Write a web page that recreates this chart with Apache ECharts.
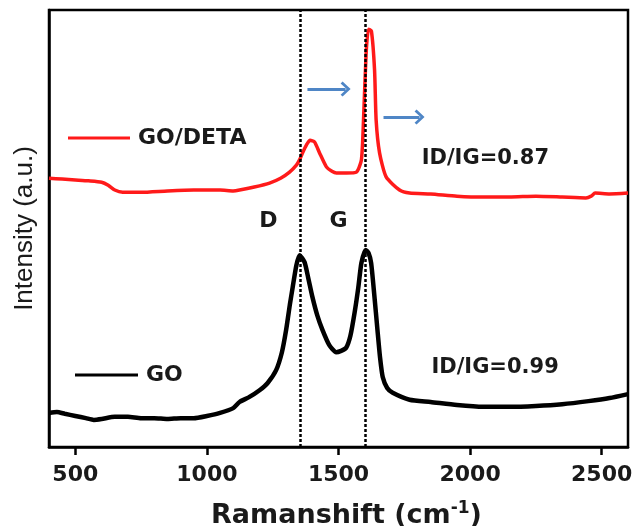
<!DOCTYPE html>
<html>
<head>
<meta charset="utf-8">
<script src="https://cdn.jsdelivr.net/npm/echarts@6/dist/echarts.min.js"></script>
<style>
  html, body { margin: 0; padding: 0; background: #fff; }
  #chart { width: 635px; height: 526px; }
</style>
</head>
<body>
<div id="chart"></div>
<script>
// Raman shift (cm^-1) / intensity (a.u.) pairs for each sample
const goShift = [400, 430, 460, 500, 540, 570, 600, 650, 700, 750, 800, 850, 900, 950, 1000, 1050, 1100, 1124, 1160, 1200, 1230, 1263, 1285, 1301, 1315, 1326, 1340, 1352, 1371, 1385, 1401, 1420, 1439, 1465, 1491, 1510, 1529, 1545, 1561, 1575, 1587, 1603, 1614, 1624, 1636, 1648, 1658, 1668, 1685, 1706, 1770, 1850, 1950, 2050, 2150, 2250, 2350, 2450, 2530, 2600];
const goIntensity = [78, 80, 76, 71, 66, 62, 64, 69, 69, 66, 66, 64, 66, 66, 71, 78, 89, 103, 114, 130, 146, 176, 217, 268, 325, 366, 416, 439, 423, 387, 343, 300, 268, 233, 217, 220, 227, 254, 307, 364, 421, 451, 444, 421, 348, 268, 204, 160, 135, 124, 108, 103, 96, 92, 92, 94, 98, 105, 112, 121];

const detaShift = [400, 450, 500, 550, 600, 625, 650, 680, 750, 850, 950, 1050, 1100, 1124, 1180, 1238, 1280, 1314, 1340, 1352, 1365, 1378, 1392, 1409, 1428, 1454, 1475, 1492, 1530, 1568, 1587, 1595, 1605, 1614, 1625, 1637, 1643, 1656, 1681, 1732, 1770, 1850, 1950, 2050, 2150, 2250, 2350, 2440, 2460, 2475, 2530, 2600];
const detaIntensity = [615, 613, 611, 609, 606, 599, 588, 583, 583, 586, 588, 588, 586, 588, 595, 604, 615, 629, 645, 657, 675, 691, 702, 698, 673, 641, 631, 627, 627, 629, 657, 748, 901, 956, 952, 863, 748, 673, 618, 588, 581, 579, 574, 572, 572, 574, 572, 570, 574, 581, 579, 581];

// D and G band positions (cm^-1)
const bandPositions = [1355, 1603];
const bandNames = ['D', 'G'];
const ratioLabels = ['ID/IG=0.87', 'ID/IG=0.99'];
const xTickValues = [500, 1000, 1500, 2000, 2500];

const pair = (xs, ys) => xs.map((x, i) => [x, ys[i]]);
const boldFont = '"DejaVu Sans", "Liberation Sans", sans-serif';
const ink = '#1a1a1a';

const textMark = (coord, text, size) => ({
  coord: coord,
  symbol: 'circle',
  symbolSize: 0,
  label: {
    show: true, position: 'inside', formatter: text,
    fontFamily: boldFont, fontWeight: 'bold', fontSize: size, color: ink
  }
});

// open chevron arrow head, drawn pointing up (markLine rotates it along the line)
const chevron = 'path://M0,12 L12,0 L24,12 L21,15 L12,6 L3,15 Z';
const arrowStyle = { color: '#4f86c6', width: 3, type: 'solid' };

const legendBase = {
  padding: 0, icon: 'rect', itemHeight: 3,
  textStyle: { fontFamily: boldFont, fontWeight: 'bold', fontSize: 22, color: ink, padding: [0, 0, 0, 3] }
};

const chart = echarts.init(document.getElementById('chart'), null, { renderer: 'canvas' });
chart.setOption({
  animation: false,
  backgroundColor: '#fff',
  grid: {
    left: 49, right: 7, top: 10, bottom: 79,
    outerBoundsMode: 'none', containLabel: false,
    show: true, borderColor: '#000', borderWidth: 2.5
  },
  legend: [
    Object.assign({ data: ['GO/DETA'], left: 68, top: 127, itemWidth: 62 }, legendBase),
    Object.assign({ data: ['GO'], left: 75, top: 364, itemWidth: 63 }, legendBase)
  ],
  xAxis: {
    type: 'value', min: 400, max: 2600,
    name: 'Ramanshift (cm{sup|-1})',
    nameLocation: 'middle', nameGap: 53,
    nameTextStyle: {
      fontFamily: boldFont, fontWeight: 'bold', fontSize: 27, color: ink,
      padding: [0, 0, 0, 16],
      rich: { sup: { fontFamily: boldFont, fontWeight: 'bold', fontSize: 17, color: ink, verticalAlign: 'top', padding: [0, 0, 14, 0] } }
    },
    axisLine: { lineStyle: { color: '#000', width: 2.5 } },
    axisTick: { show: true, customValues: xTickValues, length: 8, lineStyle: { color: '#000', width: 2.5 } },
    axisLabel: {
      customValues: xTickValues, margin: 17,
      formatter: v => String(v),
      fontFamily: boldFont, fontWeight: 'bold', fontSize: 22, color: ink
    },
    splitLine: { show: false }
  },
  yAxis: {
    type: 'value', min: 0, max: 1000,
    name: 'Intensity (a.u.)',
    nameLocation: 'middle', nameGap: 11,
    nameTextStyle: { fontFamily: '"Liberation Sans", Arial, sans-serif', fontSize: 26, color: ink },
    axisLine: { show: true, lineStyle: { color: '#000', width: 2.5 } },
    axisTick: { show: false },
    axisLabel: { show: false },
    splitLine: { show: false }
  },
  series: [
    {
      name: 'GO/DETA', type: 'line',
      data: pair(detaShift, detaIntensity),
      symbol: 'none', smooth: 0.2,
      lineStyle: { color: '#ff1a1a', width: 3.5 },
      itemStyle: { color: '#ff1a1a' },
      markLine: {
        silent: true, label: { show: false },
        symbol: ['none', chevron], symbolSize: [15, 10],
        lineStyle: arrowStyle,
        data: [
          [{ coord: [1382, 819] }, { coord: [1527, 819] }],
          [{ coord: [1671, 755] }, { coord: [1808, 755] }]
        ]
      },
      markPoint: {
        silent: true,
        data: [textMark([2058, 659], ratioLabels[0], 21)]
      }
    },
    {
      name: 'GO', type: 'line',
      data: pair(goShift, goIntensity),
      symbol: 'none', smooth: 0.2,
      lineStyle: { color: '#000', width: 4.5 },
      itemStyle: { color: '#000' },
      markLine: {
        silent: true, symbol: 'none', label: { show: false },
        lineStyle: { color: '#000', width: 2.5, type: [3, 2] },
        data: bandPositions.map(v => ({ xAxis: v }))
      },
      markPoint: {
        silent: true,
        data: [
          textMark([2095, 181], ratioLabels[1], 21),
          textMark([1234, 517], bandNames[0], 22),
          textMark([1500, 517], bandNames[1], 22)
        ]
      }
    }
  ]
});
</script>
</body>
</html>
